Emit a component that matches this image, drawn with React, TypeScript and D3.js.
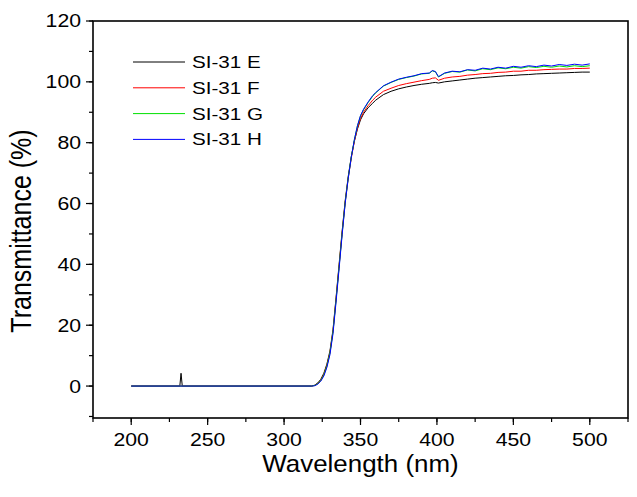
import React from "react";
import * as d3 from "d3";

const W = 637;
const H = 497;

const xTicks = [200, 250, 300, 350, 400, 450, 500];
const yTicks = [0, 20, 40, 60, 80, 100, 120];

const seriesNames = ["SI-31 E", "SI-31 F", "SI-31 G", "SI-31 H"];
const seriesColors = ["#000000", "#ff0000", "#00e000", "#0000ff"];

// flat part before absorption edge
const wlFlatE = [200, 231.8, 232.6, 233.4];
const tFlatE = [0, 0, 4.2, 0];
const wlFlat = [200];
const tFlat = [0];

const wlRise = [318, 320, 322, 324, 326, 328, 330, 332, 334, 336, 338, 340, 342, 344, 346, 348, 350, 352, 355, 358,
  360, 365, 370, 375, 380, 385, 390, 395, 397, 399, 401, 405, 410, 415, 420, 425, 430, 435, 440, 445, 450,
  455, 460, 465, 470, 475, 480, 485, 490, 495, 500];

const tE = [0, 0.3, 1.0, 2.2, 4.2, 7.2, 11.5, 18.5, 29, 40, 51, 61, 69, 75.5, 80.5, 84.5, 87.5, 89.5, 91.5, 93,
  94, 95.8, 96.9, 97.7, 98.3, 98.8, 99.2, 99.5, 99.7, 99.8, 99.6, 100, 100.3, 100.6, 100.9, 101.2, 101.4, 101.6, 101.8, 102, 102.1,
  102.3, 102.4, 102.6, 102.7, 102.8, 102.9, 103, 103.1, 103.2, 103.2];
const tF = [0, 0.2, 0.8, 1.9, 3.8, 6.7, 11, 18, 28.5, 39.5, 50.5, 60.5, 68.5, 75, 80.5, 84.8, 88, 90, 92.2, 94,
  95, 96.9, 97.9, 98.8, 99.4, 99.9, 100.4, 100.8, 101.2, 101.3, 100.5, 101.2, 101.6, 101.8, 102.2, 102.4, 102.7, 102.8, 103.1, 103.2, 103.5,
  103.5, 103.8, 103.8, 104, 104.1, 104.2, 104.2, 104.4, 104.4, 104.5];
const tG = [0, 0.2, 0.7, 1.8, 3.6, 6.5, 10.8, 17.8, 28.2, 39.2, 50.2, 60.4, 68.6, 75.4, 81, 85.5, 88.8, 90.8, 93.2, 95.3,
  96.4, 98.6, 99.8, 100.8, 101.4, 101.9, 102.6, 102.8, 103.6, 103.3, 101.6, 102.8, 103.4, 103.2, 103.9, 103.6, 104.3, 104, 104.6, 104.3, 104.8,
  104.5, 105, 104.7, 105.1, 104.8, 105.2, 104.9, 105.3, 105, 105.3];
const tH = [0, 0.1, 0.6, 1.6, 3.3, 6.1, 10.3, 17.2, 27.6, 38.6, 49.8, 60.1, 68.4, 75.3, 81, 85.6, 88.9, 91, 93.4, 95.5,
  96.5, 98.7, 99.9, 100.9, 101.5, 102, 102.7, 102.9, 103.7, 103.4, 101.7, 102.9, 103.5, 103.3, 104, 103.8, 104.5, 104.2, 104.8, 104.5, 105.1,
  104.8, 105.3, 105, 105.5, 105.2, 105.7, 105.4, 105.8, 105.5, 105.9];

const margin = { left: 93, right: 9, top: 21, bottom: 79 };

export default function App() {
  const x = d3.scaleLinear().domain([175, 525]).range([margin.left, W - margin.right]);
  const y = d3.scaleLinear().domain([-10.5, 120]).range([H - margin.bottom, margin.top]);

  const build = (wl: number[], t: number[]) => wl.map((w, i) => [w, t[i]] as [number, number]);
  const series = [
    build([...wlFlatE, ...wlRise], [...tFlatE, ...tE]),
    build([...wlFlat, ...wlRise], [...tFlat, ...tF]),
    build([...wlFlat, ...wlRise], [...tFlat, ...tG]),
    build([...wlFlat, ...wlRise], [...tFlat, ...tH]),
  ];
  const line = d3.line<[number, number]>().x((d) => x(d[0])).y((d) => y(d[1]));

  const x0 = x.range()[0], x1 = x.range()[1];
  const y0 = y.range()[0], y1 = y.range()[1];
  const xMinor = d3.range(175, 526, 25);
  const yMinor = d3.range(-10, 121, 10);
  const font = "'Liberation Sans', Arial, sans-serif";
  const sx = 1.18;

  return (
    <svg width={W} height={H} style={{ position: "absolute", left: 0, top: 0, background: "#fff" }} fontFamily={font}>
      <rect x={0} y={0} width={W} height={H} fill="#fff" />
      {xMinor.map((v) => (
        <line key={"xm" + v} x1={x(v)} x2={x(v)} y1={y0} y2={y0 + 4} stroke="#000" strokeWidth={1.2} />
      ))}
      {yMinor.map((v) => (
        <line key={"ym" + v} x1={x0 - 4} x2={x0} y1={y(v)} y2={y(v)} stroke="#000" strokeWidth={1.2} />
      ))}
      {xTicks.map((v) => (
        <g key={"xt" + v}>
          <line x1={x(v)} x2={x(v)} y1={y0} y2={y0 + 7} stroke="#000" strokeWidth={1.2} />
          <text transform={`translate(${x(v)},${y0 + 28}) scale(${sx},1)`} textAnchor="middle" fontSize={18}>{v}</text>
        </g>
      ))}
      {yTicks.map((v) => (
        <g key={"yt" + v}>
          <line x1={x0 - 7} x2={x0} y1={y(v)} y2={y(v)} stroke="#000" strokeWidth={1.2} />
          <text transform={`translate(${x0 - 12},${y(v)}) scale(${sx},1)`} dy="0.36em" textAnchor="end" fontSize={18}>{v}</text>
        </g>
      ))}
      {series.map((s, i) => (
        <path key={"s" + i} d={line(s) || ""} fill="none" stroke={seriesColors[i]} strokeWidth={1} />
      ))}
      <rect x={x0} y={y1} width={x1 - x0} height={y0 - y1} fill="none" stroke="#000" strokeWidth={1.6} />
      {seriesNames.map((n, i) => (
        <g key={"lg" + i}>
          <line x1={133} x2={185} y1={62 + i * 25.8} y2={62 + i * 25.8} stroke={seriesColors[i]} strokeWidth={1} />
          <text transform={`translate(192,${62 + i * 25.8}) scale(1.25,1)`} dy="0.36em" fontSize={16.5}>{n}</text>
        </g>
      ))}
      <text transform={`translate(${(x0 + x1) / 2},472) scale(1.08,1)`} textAnchor="middle" fontSize={24}>Wavelength (nm)</text>
      <text transform={`translate(31,231) scale(1.2,1) rotate(-90)`} textAnchor="middle" fontSize={25}>Transmittance (%)</text>
    </svg>
  );
}
